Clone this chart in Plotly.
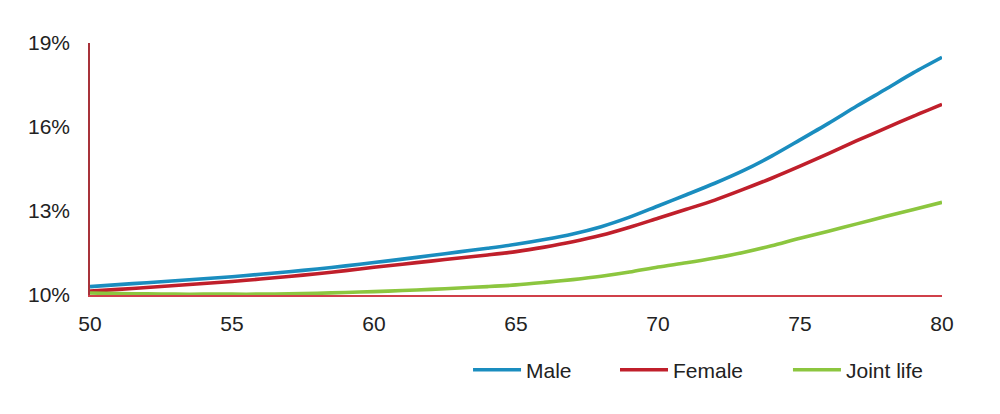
import plotly.graph_objects as go

# ages on the x axis
ages = list(range(50, 81))

# percentages, one per age
male = [10.30, 10.37, 10.44, 10.51, 10.58, 10.65, 10.74, 10.83, 10.93, 11.04,
        11.16, 11.28, 11.41, 11.54, 11.67, 11.81, 11.98, 12.18, 12.44, 12.78,
        13.18, 13.58, 13.99, 14.44, 14.96, 15.54, 16.13, 16.75, 17.34, 17.94,
        18.49]
female = [10.14, 10.20, 10.27, 10.34, 10.41, 10.48, 10.57, 10.66, 10.76, 10.87,
          10.99, 11.10, 11.21, 11.32, 11.43, 11.55, 11.71, 11.90, 12.13, 12.42,
          12.74, 13.06, 13.39, 13.77, 14.17, 14.60, 15.05, 15.51, 15.95, 16.39,
          16.81]
joint = [10.07, 10.05, 10.04, 10.03, 10.03, 10.03, 10.03, 10.04, 10.06, 10.09,
         10.12, 10.16, 10.20, 10.25, 10.30, 10.36, 10.45, 10.55, 10.67, 10.82,
         11.00, 11.15, 11.32, 11.52, 11.76, 12.03, 12.28, 12.54, 12.80, 13.05,
         13.31]

series = [
    ("Male", male, "#1a8dbf"),
    ("Female", female, "#c01f2b"),
    ("Joint life", joint, "#8cc63f"),
]

y_ticks = [10, 13, 16, 19]
x_ticks = [50, 55, 60, 65, 70, 75, 80]

FONT = "Liberation Sans, Arial, sans-serif"

# the page body adds an 8px offset, margins are shifted to compensate
fig = go.Figure()
legend_ids = ["legend", "legend2", "legend3"]
legend_x = [0.4437, 0.6162, 0.8192]
for (name, vals, color), lid in zip(series, legend_ids):
    fig.add_trace(go.Scatter(
        x=ages, y=vals, mode="lines", name=name, legend=lid,
        line=dict(color=color, width=3.6, shape="spline", smoothing=0.8),
    ))

legend_style = dict(orientation="h", xanchor="left", y=-0.298, yanchor="middle",
                    itemwidth=48, font=dict(size=21, family=FONT, color="#222222"),
                    bgcolor="rgba(0,0,0,0)")

fig.update_layout(
    width=1000, height=414,
    margin=dict(l=82, r=66, t=35, b=127),
    paper_bgcolor="white", plot_bgcolor="white",
    font=dict(family=FONT, size=21, color="#222222"),
    showlegend=True,
    legend=dict(x=legend_x[0], **legend_style),
    legend2=dict(x=legend_x[1], **legend_style),
    legend3=dict(x=legend_x[2], **legend_style),
    xaxis=dict(range=[50, 80], tickvals=x_ticks, showgrid=False, zeroline=False,
               showline=True, linecolor="#d0404a", linewidth=1.5, automargin=False,
               ticks="outside", ticklen=9, tickcolor="rgba(0,0,0,0)",
               tickfont=dict(size=21)),
    yaxis=dict(range=[10, 19], tickvals=y_ticks,
               ticktext=[f"{v}%" for v in y_ticks],
               showgrid=False, zeroline=False, automargin=False,
               showline=True, linecolor="#a8323a", linewidth=1.5,
               ticks="outside", ticklen=14, tickcolor="rgba(0,0,0,0)",
               tickfont=dict(size=21)),
)

fig.write_html("out.html")
